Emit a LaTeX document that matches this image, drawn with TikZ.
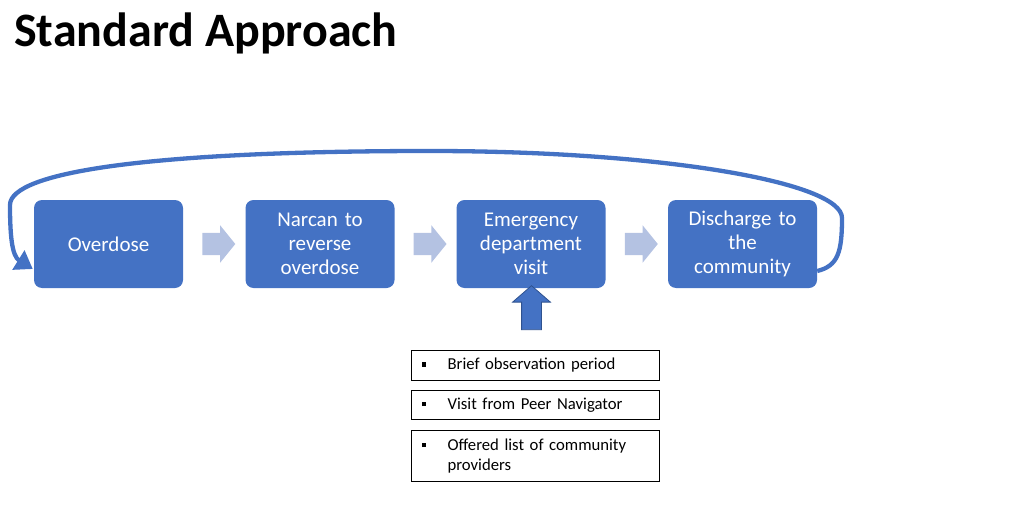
\documentclass[tikz,border=0pt]{standalone}
\usepackage{fontspec}
\setmainfont{Carlito}
\usepackage{array}
\usetikzlibrary{shapes.arrows,arrows.meta,calc}
\definecolor{boxblue}{HTML}{4472C4}
\definecolor{chevblue}{HTML}{B4C2E2}
\definecolor{edgeblue}{HTML}{2F528F}
\tikzset{
  stepbox/.style={fill=boxblue, draw=none, rounded corners=8pt, minimum width=149pt, minimum height=88pt, text width=145pt, align=center, text=white, font=\fontsize{21}{24}\selectfont, inner sep=0pt},
  chev/.style={single arrow, fill=chevblue, draw=none, minimum height=33pt, minimum width=37pt, single arrow head extend=7.5pt, single arrow tip angle=102, inner xsep=0pt, inner ysep=11pt},
  upar/.style={single arrow, fill=boxblue, draw=edgeblue, line width=0.8pt, minimum height=44pt, minimum width=37pt, single arrow head extend=9pt, single arrow tip angle=98, shape border rotate=90, inner sep=9.5pt},
  notebox/.style={draw=black, line width=1.2pt, minimum width=248pt, text width=228pt, inner xsep=10pt, inner ysep=0pt, align=left, font=\fontsize{16.7}{20}\selectfont, anchor=north west},
  loop/.style={draw=boxblue, line width=4.3pt, -{Triangle[length=17pt,width=22pt]}}
}
\newcommand{\bul}[1]{\begin{tabular}{@{}>{\raggedright\arraybackslash}p{26pt}@{}>{\raggedright\arraybackslash}p{200pt}@{}}\rule[3pt]{4.5pt}{4.5pt} & #1\end{tabular}}
\begin{document}
\begin{tikzpicture}[x=1pt,y=-1pt]
\useasboundingbox (0,0) rectangle (1024,505);
\node[anchor=base west, font=\fontsize{48}{50}\selectfont\bfseries, inner sep=0pt] (title) at (14,47) {Standard Approach};

\node[stepbox] (s1) at (108.5,244) {Overdose};
\node[stepbox] (s2) at (320,244) {Narcan to\\reverse\\overdose};
\node[stepbox] (s3) at (531,244) {Emergency\\department\\visit};
\node[stepbox] (s4) at (742.5,244) {Discharge to\\the\\community};

\node[chev] (c1) at ($(s1.east)!0.5!(s2.west)$) {};
\node[chev] (c2) at ($(s2.east)!0.5!(s3.west)$) {};
\node[chev] (c3) at ($(s3.east)!0.5!(s4.west)$) {};

\node[upar] (up) at (531.5,312) {};

\node[notebox, minimum height=30pt] (n1) at (411,350) {\bul{Brief observation period}};
\node[notebox, minimum height=29pt] (n2) at (411,390) {\bul{Visit from Peer Navigator}};
\node[notebox, minimum height=51pt] (n3) at (411,430) {\bul{Offered list of community providers}};

\coordinate (lstart) at ($(s4.east)+(0,27)$);
\coordinate (lend) at ($(s1.west)+(-1,25)$);
\draw[loop] (lstart) .. controls (838,266) and (842,252) .. (842,218)
  .. controls (842,182) and (660,151) .. (430,151)
  .. controls (150,151) and (10,172) .. (10,205)
  .. controls (10,236) and (12,256) .. (lend);
\end{tikzpicture}
\end{document}
